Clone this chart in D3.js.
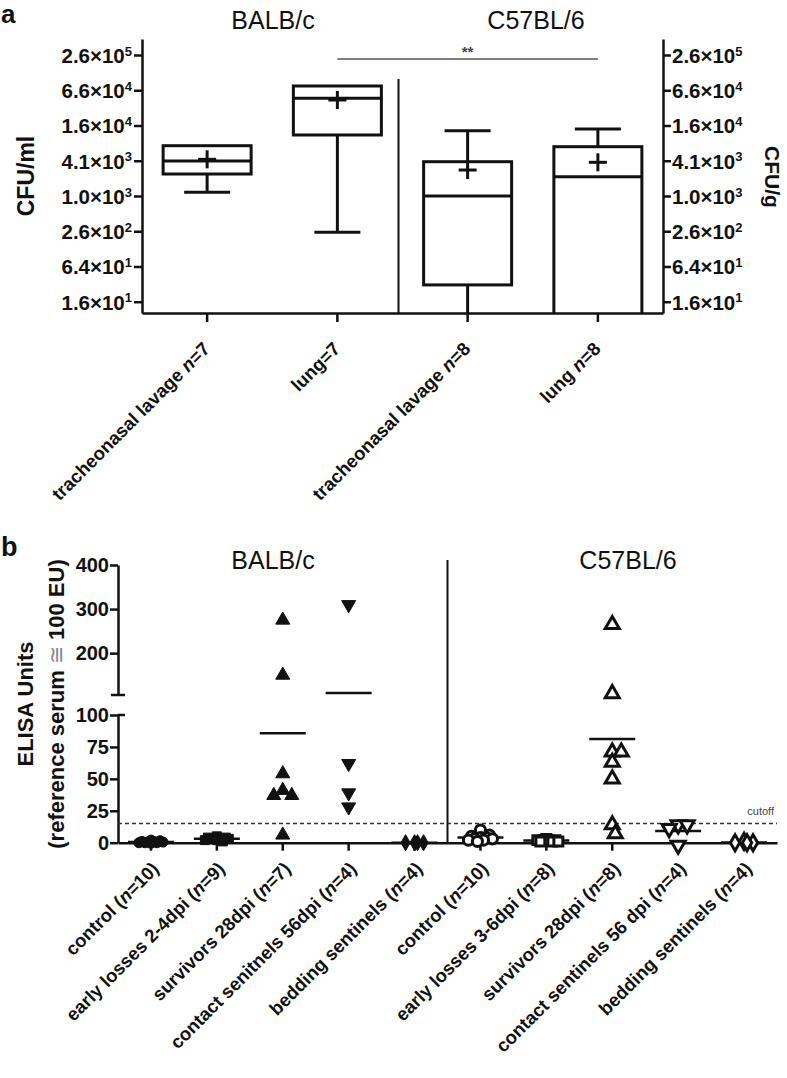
<!DOCTYPE html>
<html>
<head>
<meta charset="utf-8">
<script src="https://cdn.jsdelivr.net/npm/d3@7"></script>
<style>
  body { margin: 0; background: #fff; }
  svg text { font-family: "Liberation Sans", Arial, Helvetica, sans-serif; fill: #111; }
</style>
</head>
<body>
<svg id="chart" width="787" height="1078"></svg>
<script>
// ---- panel a: bacterial load, box plots (log2 axis) ----
const boxGroups = ['tracheonasal lavage n=7', 'lung=7', 'tracheonasal lavage n=8', 'lung n=8'];
const boxMin    = [1184, 245, 6, 4];
const boxQ1     = [2430, 11280, 31, 6];
const boxMedian = [4054, 47770, 1024, 2186];
const boxQ3     = [7400, 77500, 3945, 7117];
const boxMax    = [7400, 77500, 13350, 14270];
const boxMean   = [4330, 44670, 2845, 3851];
const cfuTicks  = [16, 64, 256, 1024, 4096, 16384, 65536, 262144];
const strains   = ['BALB/c', 'C57BL/6'];

// ---- panel b: ELISA units, scatter with mean ----
const elisaGroups = [
  'control (n=10)', 'early losses 2-4dpi (n=9)', 'survivors 28dpi (n=7)',
  'contact senitnels 56dpi (n=4)', 'bedding sentinels (n=4)',
  'control (n=10)', 'early losses 3-6dpi (n=8)', 'survivors 28dpi (n=8)',
  'contact sentinels 56 dpi (n=4)', 'bedding sentinels (n=4)'
];
const balbControl   = [0.5, 1, 0, -0.5, 1.5, 0, 1, 0.5, 2, 0];
const balbEarly     = [3, 4, 2, 3, 5, 2, 3, 4, 1];
const balbSurvivors = [275, 150, 54, 37, 37, 41, 6];
const balbContact   = [310, 62, 39, 28];
const balbBedding   = [0, 0, 0, 0];
const c57Control    = [10, 6, 5, 4, 3, 3, 2, 2, 1, 4];
const c57Early      = [2, 1, 2, 1, 3, 2, 2, 1];
const c57Survivors  = [265, 108, 71, 71, 63, 50, 14, 7];
const c57Contact    = [14, 14, 11, -2];
const c57Bedding    = [0, 0, 1, 0];
const elisaValues = [balbControl, balbEarly, balbSurvivors, balbContact, balbBedding,
                     c57Control, c57Early, c57Survivors, c57Contact, c57Bedding];
const cutoff = 15;
const lowTicks = [0, 25, 50, 75, 100];
const highTicks = [200, 300, 400];

const svg = d3.select('#chart');
const defs = svg.append('defs');

function styleAxis(g, w) {
  g.select('.domain').attr('stroke', '#111').attr('stroke-width', w);
  g.selectAll('.tick line').attr('stroke', '#111').attr('stroke-width', w);
}

// ================= panel a =================
const yA = d3.scaleLog().base(2).domain([10.27, 492000]).range([313, 39]);
const xA = d3.scaleBand().domain(boxGroups).range([142, 663]);

svg.append('text').attr('x', 1).attr('y', 23)
  .style('font-size', '26px').style('font-weight', 'bold').text('a');

const titleX = [273, 536];
strains.forEach((s, i) => {
  svg.append('text').attr('x', titleX[i]).attr('y', 29)
    .attr('text-anchor', 'middle').style('font-size', '25px').text(s);
});

function cfuLabel(sel, anchor) {
  sel.each(function(d) {
    const [m, e] = d.toExponential(1).split('e');
    const t = d3.select(this).append('text')
      .attr('fill', '#111').attr('dy', '0.36em')
      .attr('text-anchor', anchor)
      .attr('x', anchor === 'end' ? -10 : 9)
      .style('font-size', '20.5px').style('font-weight', 'bold');
    t.append('tspan').text(m + '\u00d710');
    t.append('tspan').attr('dy', '-0.55em').style('font-size', '13px').text(+e);
  });
}

const axLeftA = svg.append('g').attr('transform', 'translate(142,0)')
  .call(d3.axisLeft(yA).tickValues(cfuTicks).tickSize(8).tickSizeOuter(0).tickFormat(''));
styleAxis(axLeftA, 2.5);
axLeftA.selectAll('.tick').call(cfuLabel, 'end');

const axRightA = svg.append('g').attr('transform', 'translate(663,0)')
  .call(d3.axisRight(yA).tickValues(cfuTicks).tickSize(8).tickSizeOuter(0).tickFormat(''));
styleAxis(axRightA, 2.5);
axRightA.selectAll('.tick').call(cfuLabel, 'start');

const axBottomA = svg.append('g').attr('transform', 'translate(0,313)')
  .call(d3.axisBottom(xA).tickSize(9).tickSizeOuter(0).tickFormat(''));
styleAxis(axBottomA, 2.5);

boxGroups.forEach(g => {
  const cx = xA(g) + xA.bandwidth() / 2;
  const lbl = svg.append('text')
    .attr('transform', `translate(${cx + 4},350) rotate(-45)`)
    .attr('text-anchor', 'end')
    .style('font-size', '18.5px').style('font-weight', 'bold');
  const parts = g.split('n=');
  lbl.append('tspan').text(parts[0]);
  if (parts.length > 1) {
    lbl.append('tspan').style('font-style', 'italic').text('n');
    lbl.append('tspan').text('=' + parts[1]);
  }
});

svg.append('text').attr('transform', 'translate(34,176) rotate(-90)')
  .attr('text-anchor', 'middle').style('font-size', '23px').style('font-weight', 'bold')
  .text('CFU/ml');
svg.append('text').attr('transform', 'translate(765,177) rotate(90)')
  .attr('text-anchor', 'middle').style('font-size', '21px').style('font-weight', 'bold')
  .text('CFU/g');

defs.append('clipPath').attr('id', 'clipA').append('rect')
  .attr('x', 100).attr('y', 39).attr('width', 600).attr('height', 274);

const boxes = svg.append('g').attr('clip-path', 'url(#clipA)')
  .attr('stroke', '#111').attr('stroke-width', 3).attr('fill', 'none');
boxGroups.forEach((g, i) => {
  const cx = xA(g) + xA.bandwidth() / 2;
  const hw = 44, cap = 23, pl = 9;
  boxes.append('rect').attr('x', cx - hw).attr('width', 2 * hw)
    .attr('y', yA(boxQ3[i])).attr('height', yA(boxQ1[i]) - yA(boxQ3[i]));
  boxes.append('line').attr('x1', cx - hw).attr('x2', cx + hw)
    .attr('y1', yA(boxMedian[i])).attr('y2', yA(boxMedian[i]));
  if (boxMax[i] > boxQ3[i]) {
    boxes.append('line').attr('x1', cx).attr('x2', cx).attr('y1', yA(boxQ3[i])).attr('y2', yA(boxMax[i]));
    boxes.append('line').attr('x1', cx - cap).attr('x2', cx + cap).attr('y1', yA(boxMax[i])).attr('y2', yA(boxMax[i]));
  }
  boxes.append('line').attr('x1', cx).attr('x2', cx).attr('y1', yA(boxQ1[i])).attr('y2', yA(boxMin[i]));
  boxes.append('line').attr('x1', cx - cap).attr('x2', cx + cap).attr('y1', yA(boxMin[i])).attr('y2', yA(boxMin[i]));
  const my = yA(boxMean[i]);
  boxes.append('line').attr('x1', cx - pl).attr('x2', cx + pl).attr('y1', my).attr('y2', my);
  boxes.append('line').attr('x1', cx).attr('x2', cx).attr('y1', my - pl).attr('y2', my + pl);
});

// strain separator and significance bar
const sepA = xA(boxGroups[2]) - 4;
svg.append('line').attr('x1', sepA).attr('x2', sepA).attr('y1', 79).attr('y2', 313)
  .attr('stroke', '#111').attr('stroke-width', 2);
const sig1 = xA(boxGroups[1]) + xA.bandwidth() / 2;
const sig2 = xA(boxGroups[3]) + xA.bandwidth() / 2;
svg.append('line').attr('x1', sig1).attr('x2', sig2).attr('y1', 59).attr('y2', 59)
  .attr('stroke', '#555').attr('stroke-width', 1.5);
svg.append('text').attr('x', (sig1 + sig2) / 2).attr('y', 57).attr('text-anchor', 'middle')
  .style('font-size', '15px').style('font-weight', 'bold').style('fill', '#444').text('**');

// ================= panel b =================
const ids = elisaGroups.map((d, i) => i);
const xB = d3.scaleBand().domain(ids).range([118, 777]);
const yLow = d3.scaleLinear().domain([0, 100]).range([842.7, 715]);
const yUp = d3.scaleLinear().domain([105, 400]).range([695, 565]);
const yB = v => (v <= 100 ? yLow(v) : yUp(v));

svg.append('text').attr('x', 1).attr('y', 556)
  .style('font-size', '27px').style('font-weight', 'bold').text('b');

const titleXb = [273, 628];
strains.forEach((s, i) => {
  svg.append('text').attr('x', titleXb[i]).attr('y', 569)
    .attr('text-anchor', 'middle').style('font-size', '25px').text(s);
});

const yTitle = svg.append('text').attr('transform', 'translate(33,704) rotate(-90)')
  .attr('text-anchor', 'middle').style('font-size', '22px').style('font-weight', 'bold');
yTitle.append('tspan').attr('x', 0).attr('dy', 0).text('ELISA Units');
const l2 = yTitle.append('tspan').attr('x', 0).attr('dy', 31);
l2.append('tspan').text('(reference serum ');
l2.append('tspan').style('font-weight', 'normal').style('fill', '#888').text('\u2245');
l2.append('tspan').text(' 100 EU)');

const axUp = svg.append('g').attr('transform', 'translate(118,0)')
  .call(d3.axisLeft(yUp).tickValues(highTicks).tickSize(8).tickSizeOuter(0));
const axLow = svg.append('g').attr('transform', 'translate(118,0)')
  .call(d3.axisLeft(yLow).tickValues(lowTicks).tickSize(8).tickSizeOuter(0));
[axUp, axLow].forEach(a => {
  styleAxis(a, 2.5);
  a.selectAll('.tick text').attr('x', -9).style('font-size', '20px').style('font-weight', 'bold')
    .attr('fill', '#111').style('font-family', '"Liberation Sans", Arial, sans-serif');
});
svg.append('line').attr('x1', 111).attr('x2', 125).attr('y1', yUp(105)).attr('y2', yUp(105))
  .attr('stroke', '#111').attr('stroke-width', 2.5);
svg.append('line').attr('x1', 118).attr('x2', 125).attr('y1', yLow(100)).attr('y2', yLow(100))
  .attr('stroke', '#111').attr('stroke-width', 2.5);

// cutoff
svg.append('line').attr('x1', 118).attr('x2', 777).attr('y1', yLow(cutoff)).attr('y2', yLow(cutoff))
  .attr('stroke', '#333').attr('stroke-width', 1.6).attr('stroke-dasharray', '4,3');
svg.append('text').attr('x', 774).attr('y', yLow(cutoff) - 9).attr('text-anchor', 'end')
  .style('font-size', '11px').style('fill', '#444').text('cutoff');

const axBottomB = svg.append('g').attr('transform', `translate(0,${yLow(0)})`)
  .call(d3.axisBottom(xB).tickSize(8).tickSizeOuter(0).tickFormat(''));
styleAxis(axBottomB, 2.5);

const sepB = xB(5);
svg.append('line').attr('x1', sepB).attr('x2', sepB).attr('y1', 560).attr('y2', yLow(0))
  .attr('stroke', '#111').attr('stroke-width', 2);

elisaGroups.forEach((g, i) => {
  const cx = xB(i) + xB.bandwidth() / 2;
  const lbl = svg.append('text')
    .attr('transform', `translate(${cx + 9},870) rotate(-45)`)
    .attr('text-anchor', 'end')
    .style('font-size', '18.5px').style('font-weight', 'bold');
  const parts = g.split('(n=');
  lbl.append('tspan').text(parts[0] + '(');
  lbl.append('tspan').style('font-style', 'italic').text('n');
  lbl.append('tspan').text('=' + parts[1]);
});

// markers: filled for BALB/c, open for C57BL/6
const shapes = [d3.symbolCircle, d3.symbolSquare, d3.symbolTriangle, d3.symbolTriangle, d3.symbolDiamond];
const sizes = [80, 80, 85, 85, 75];

function swarm(values, cx, r, maxOff) {
  const pts = values.map(v => ({ v, y: yB(v) }));
  const placed = [];
  pts.sort((a, b) => a.y - b.y).forEach(p => {
    let best = 0, bestD = -1;
    for (let k = 0; ; k++) {
      const off = (k % 2 ? 1 : -1) * Math.ceil(k / 2) * 3;
      if (Math.abs(off) > maxOff) break;
      const d = placed.length ? d3.min(placed, q => Math.hypot(q.x - (cx + off), q.y - p.y)) : Infinity;
      if (d >= r) { best = off; break; }
      if (d > bestD) { bestD = d; best = off; }
    }
    p.x = cx + best;
    placed.push(p);
  });
  return placed;
}

const pts = svg.append('g');
elisaValues.forEach((vals, i) => {
  const cx = xB(i) + xB.bandwidth() / 2;
  const kind = i % 5;
  const open = i >= 5;
  const sym = d3.symbol().type(shapes[kind]).size(sizes[kind]);
  // mean line
  const m = d3.mean(vals);
  pts.append('line').attr('x1', cx - 23).attr('x2', cx + 23).attr('y1', yB(m)).attr('y2', yB(m))
    .attr('stroke', '#111').attr('stroke-width', 2.5);
  swarm(vals, cx, 9, 14).forEach(p => {
    const rot = kind === 3 ? ' rotate(180)' : '';
    pts.append('path').attr('d', sym())
      .attr('transform', `translate(${p.x},${p.y})${rot}`)
      .attr('fill', open ? '#fff' : '#111')
      .attr('stroke', '#111').attr('stroke-width', open ? 3 : 1);
  });
});
</script>
</body>
</html>
